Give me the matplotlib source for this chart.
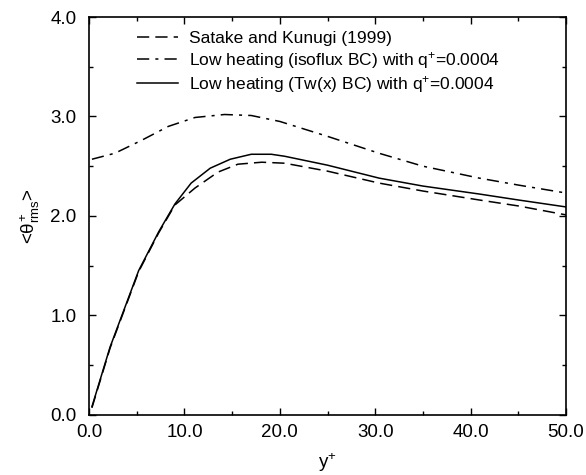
import matplotlib
matplotlib.use("Agg")
import matplotlib.pyplot as plt
from matplotlib.ticker import MultipleLocator, FormatStrFormatter

plt.rcParams['font.family'] = ['Liberation Sans', 'DejaVu Sans']
plt.rcParams['mathtext.fontset'] = 'custom'
plt.rcParams['mathtext.rm'] = 'Liberation Sans'
plt.rcParams['mathtext.it'] = 'Liberation Sans'

# Satake and Kunugi (1999)
satake_x = [0.3, 2.2, 5.2, 7.3, 9.0, 11.1, 13.5, 15.6, 18.1, 20.5, 25.0, 30.4, 35.0, 40.9, 45.0, 50.0]
satake_y = [0.07, 0.67, 1.44, 1.83, 2.11, 2.28, 2.44, 2.52, 2.54, 2.53, 2.45, 2.33, 2.25, 2.16, 2.10, 2.01]

# Low heating (isoflux BC)
iso_x = [0.3, 2.7, 5.5, 8.3, 11.1, 14.2, 17.0, 20.0, 25.0, 30.4, 35.0, 40.9, 45.0, 50.0]
iso_y = [2.57, 2.63, 2.76, 2.90, 2.99, 3.02, 3.01, 2.95, 2.80, 2.63, 2.50, 2.38, 2.31, 2.23]

# Low heating (Tw(x) BC)
tw_x = [0.3, 2.2, 5.2, 7.3, 9.0, 10.7, 12.7, 14.8, 17.0, 19.1, 20.5, 25.0, 30.4, 35.0, 40.9, 45.0, 50.0]
tw_y = [0.08, 0.68, 1.45, 1.84, 2.12, 2.33, 2.48, 2.57, 2.62, 2.62, 2.60, 2.51, 2.38, 2.30, 2.22, 2.16, 2.09]

labels = ["Satake and Kunugi (1999)",
          "Low heating (isoflux BC) with q$^{+}$=0.0004",
          "Low heating (Tw(x) BC) with q$^{+}$=0.0004"]

fig = plt.figure(figsize=(5.86, 4.75), dpi=100)
ax = fig.add_axes([0.152, 0.127, 0.814, 0.837])

ax.plot(satake_x, satake_y, color='black', lw=1.1, dashes=(8, 4), label=labels[0])
ax.plot(iso_x, iso_y, color='black', lw=1.1, dashes=(8, 4, 2, 4), label=labels[1])
ax.plot(tw_x, tw_y, color='black', lw=1.1, label=labels[2])

ax.set_xlim(0, 50)
ax.set_ylim(0, 4)
ax.xaxis.set_major_locator(MultipleLocator(10))
ax.xaxis.set_minor_locator(MultipleLocator(5))
ax.yaxis.set_major_locator(MultipleLocator(1))
ax.yaxis.set_minor_locator(MultipleLocator(0.5))
ax.xaxis.set_major_formatter(FormatStrFormatter('%.1f'))
ax.yaxis.set_major_formatter(FormatStrFormatter('%.1f'))
ax.tick_params(which='both', direction='in', top=True, right=True, labelsize=13.5, width=1.0)
ax.tick_params(which='major', length=5, pad=7)
ax.tick_params(axis='y', which='major', pad=9)
ax.tick_params(which='minor', length=3)
for s in ax.spines.values():
    s.set_linewidth(1.2)

ax.set_xlabel('y$^{+}$', fontsize=13.5, labelpad=7)
ax.set_ylabel(r'<$\theta^{+}_{\rm rms}$>', fontsize=13.5, labelpad=6)

leg = ax.legend(loc='upper left', bbox_to_anchor=(0.10, 0.965), frameon=False,
                fontsize=12.5, handlelength=2.36, handletextpad=0.63, labelspacing=0.2,
                borderpad=0, borderaxespad=0)

fig.savefig('out.png', dpi=100)
